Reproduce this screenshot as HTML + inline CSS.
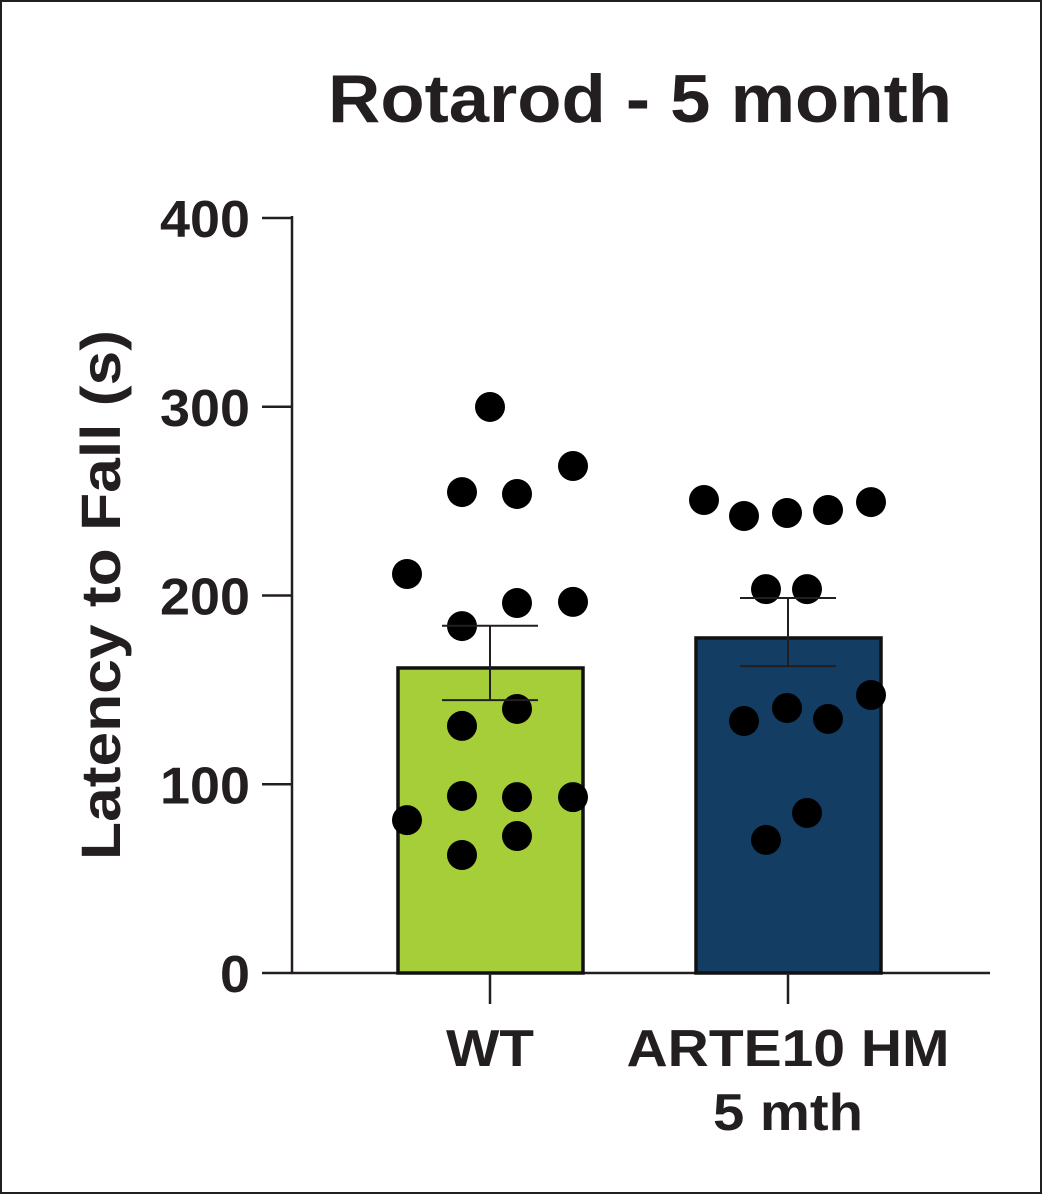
<!DOCTYPE html>
<html><head><meta charset="utf-8"><style>
html,body{margin:0;padding:0;background:#fff}
svg{display:block}
text{font-family:"Liberation Sans",Arial,sans-serif;font-weight:bold;fill:#231f20}
</style></head><body>
<svg id="c" width="1042" height="1194" xmlns="http://www.w3.org/2000/svg">
<rect x="1" y="1" width="1040" height="1192" fill="#fff" stroke="#231f20" stroke-width="2"/>
<text x="328" y="122" font-size="68" textLength="624" lengthAdjust="spacingAndGlyphs">Rotarod - 5 month</text>
<text transform="translate(120,595) rotate(-90)" font-size="56" x="-265" textLength="530" lengthAdjust="spacingAndGlyphs">Latency to Fall (s)</text>
<g id="g"></g>
</svg>
<script>
const categories=["WT","ARTE10 HM|5 mth"];
const means=[161.6,177.5];
const errLow=[144.6,162.6];
const errHigh=[184,198.7];
const colors=["#a6ce39","#133d63"];
const yTicks=[0,100,200,300,400];
const wtPoints=[211.4,299.9,254.8,253.8,268.6,183.8,196,196.6,130.9,139.9,81,93.8,93.2,93.2,62.5,72.6];
const wtOffsets=[-83,0,-28,27,83,-28,27,83,-28,27,-83,-28,27,83,-28,27];
const artePoints=[250.6,242.1,243.7,245.3,249.5,203.4,203.4,133.5,140.4,134.6,147.3,70.5,84.8];
const arteOffsets=[-84,-44,-1,40,83,-22,19,-44,-1,40,83,-22,19];
const NS="http://www.w3.org/2000/svg";
const g=document.getElementById('g');
const y=v=>973-v*1.8875;
const xc=[490,788];
const labelW={"WT":88,"ARTE10 HM":323,"5 mth":150};
function mk(t,a,p){const e=document.createElementNS(NS,t);for(const k in a)e.setAttribute(k,a[k]);(p||g).appendChild(e);return e;}
let e=mk('line',{x1:292,y1:216,x2:292,y2:974,stroke:"#231f20","stroke-width":2.5});


e=mk('line',{x1:291,y1:973,x2:990,y2:973,stroke:"#231f20","stroke-width":2.5});


yTicks.forEach(v=>{
 let t=mk('line',{x1:262,y1:y(v),x2:292,y2:y(v),stroke:"#231f20","stroke-width":2.5});
 
 
 const s=String(v);
 const w=s.length*30;
 let l=mk('text',{x:250-w,y:y(v)+19,"font-size":52,textLength:w,lengthAdjust:"spacingAndGlyphs"});l.textContent=s;
 
 
});
categories.forEach((c,i)=>{
 let b=mk('rect',{x:xc[i]-92,y:y(means[i]),width:185,height:973-y(means[i]),fill:colors[i],stroke:"#111","stroke-width":3.5});
 
 
 let t=mk('line',{x1:xc[i],y1:973,x2:xc[i],y2:1004,stroke:"#231f20","stroke-width":2.5});
 
 
 const lines=c.split('|');
 lines.forEach((s,j)=>{const w=labelW[s]||s.length*30;let l=mk('text',{x:xc[i]-w/2,y:1066+j*64,"font-size":52,textLength:w,lengthAdjust:"spacingAndGlyphs"});l.textContent=s;
 
 });
});
[[wtPoints,wtOffsets,0],[artePoints,arteOffsets,1]].forEach(([pts,off,i])=>{
 pts.forEach((v,k)=>{let d=mk('circle',{cx:xc[i]+off[k],cy:y(v),r:15,fill:"#000"});
 
 });
});
categories.forEach((c,i)=>{
 const s={stroke:"#231f20","stroke-width":2};
 let a=mk('line',Object.assign({x1:xc[i],y1:y(errHigh[i]),x2:xc[i],y2:y(errLow[i])},s));
 
 
 [errHigh[i],errLow[i]].forEach(v=>{let h=mk('line',Object.assign({x1:xc[i]-48,y1:y(v),x2:xc[i]+48,y2:y(v)},s));
 
 });
});
</script>
</body></html>
